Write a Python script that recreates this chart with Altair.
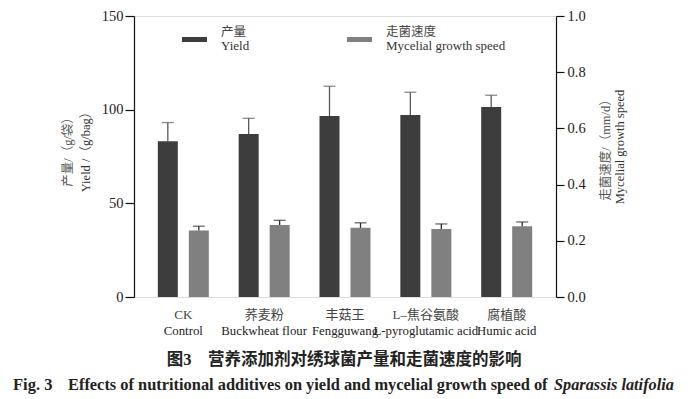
import altair as alt
import pandas as pd

categories = ["CK", "Buckwheat", "Fengguwang", "Lpyro", "Humic"]
labels_cn = ["CK", "荞麦粉", "丰菇王", "L–焦谷氨酸", "腐植酸"]
labels_en = ["Control", "Buckwheat flour", "Fengguwang", "L-pyroglutamic acid", "Humic acid"]
yield_vals = [83.1, 87.0, 96.6, 97.2, 101.4]
yield_err = [10.0, 8.4, 15.9, 12.1, 6.3]
speed_vals = [0.237, 0.256, 0.246, 0.242, 0.252]
speed_err = [0.015, 0.017, 0.018, 0.018, 0.015]

FONT = "'Liberation Serif', 'Times New Roman', 'Noto Sans CJK SC', serif"
DARK = "#3d3d3d"
LIGHT = "#808080"
W, H = 422, 281

df = pd.DataFrame({
    "cat": categories, "cn": labels_cn, "en": labels_en,
    "yv": yield_vals, "ye": yield_err, "sv": speed_vals, "se": speed_err,
})
df["ytop"] = df["yv"] + df["ye"]
df["stop"] = df["sv"] + df["se"]

xenc = alt.X("cat:N", sort=categories,
             scale=alt.Scale(paddingInner=0, paddingOuter=0.11),
             axis=alt.Axis(labels=False, ticks=False, domain=True, domainColor="#111",
                           domainWidth=1.2, title=None, grid=False))
xnoaxis = alt.X("cat:N", sort=categories, axis=None)

yscale = alt.Scale(domain=[0, 150], nice=False)
sscale = alt.Scale(domain=[0, 1], nice=False)

base = alt.Chart(df)

ybar = base.mark_bar(color=DARK, width=20, xOffset=-15.5).encode(
    x=xenc,
    y=alt.Y("yv:Q", scale=yscale,
            axis=alt.Axis(orient="left", values=[0, 50, 100, 150], title=None, grid=False,
                          tickSize=9, tickColor="#111", domainColor="#111", domainWidth=1.2,
                          tickWidth=1.2, labelFontSize=14.5, labelFont=FONT, labelColor="#222",
                          labelPadding=2)),
)
yrule = base.mark_rule(color="#5a5a5a", strokeWidth=1.3, xOffset=-15.5).encode(
    x=xnoaxis, y=alt.Y("yv:Q", scale=yscale), y2="ytop:Q")
ycap = base.mark_tick(color="#5a5a5a", thickness=1.3, size=12, xOffset=-15.5).encode(
    x=xnoaxis, y=alt.Y("ytop:Q", scale=yscale))
ylayer = alt.layer(ybar, yrule, ycap)

sbar = base.mark_bar(color=LIGHT, width=20, xOffset=15.5).encode(
    x=xnoaxis,
    y=alt.Y("sv:Q", scale=sscale,
            axis=alt.Axis(orient="right", values=[0, 0.2, 0.4, 0.6, 0.8, 1.0], format=".1f",
                          title=None, grid=False, tickSize=8, tickColor="#111",
                          domainColor="#111", domainWidth=1.2, tickWidth=1.2,
                          labelFontSize=14.5, labelFont=FONT, labelColor="#222", labelPadding=3)),
)
srule = base.mark_rule(color="#2a2a2a", strokeWidth=1.3, xOffset=15.5).encode(
    x=xnoaxis, y=alt.Y("sv:Q", scale=sscale), y2="stop:Q")
scap = base.mark_tick(color="#2a2a2a", thickness=1.3, size=12, xOffset=15.5).encode(
    x=xnoaxis, y=alt.Y("stop:Q", scale=sscale))
slayer = alt.layer(sbar, srule, scap)

cnlab = base.mark_text(font=FONT, fontSize=13, color="#444", baseline="middle").encode(
    x=xnoaxis, y=alt.value(H + 18), text="cn:N")
enlab = base.mark_text(font=FONT, fontSize=12.8, color="#222", baseline="middle").encode(
    x=xnoaxis, y=alt.value(H + 34), text="en:N")

def txt(s, x, y, size=13, angle=0, align="left", weight="normal", style="normal", color="#333"):
    return alt.Chart(pd.DataFrame({"t": [s]})).mark_text(
        font=FONT, fontSize=size, angle=angle, align=align, baseline="middle",
        fontWeight=weight, fontStyle=style, color=color).encode(
        x=alt.value(x), y=alt.value(y), text="t:N")

leg1 = alt.Chart(pd.DataFrame({"a": [0]})).mark_rect(color=DARK).encode(
    x=alt.value(48), x2=alt.value(73), y=alt.value(21), y2=alt.value(26))
leg2 = alt.Chart(pd.DataFrame({"a": [0]})).mark_rect(color=LIGHT).encode(
    x=alt.value(213), x2=alt.value(238), y=alt.value(21), y2=alt.value(26))

texts = [
    txt("产量", 87, 15.5, size=12.5, color="#444"),
    txt("Yield", 87, 29.5, size=13),
    txt("走菌速度", 252, 15.5, size=12.5, color="#444"),
    txt("Mycelial growth speed", 252, 29.5, size=13),
    txt("产量/（g/袋）", -66, 133, size=12.5, angle=270, align="center", color="#555"),
    txt("Yield /（g/bag）", -48, 133, size=12.5, angle=270, align="center", color="#333"),
    txt("走菌速度/（mm/d）", 472, 131, size=12.5, angle=270, align="center", color="#555"),
    txt("Mycelial growth speed", 486, 131, size=12.5, angle=270, align="center", color="#333"),
    txt("图3　营养添加剂对绣球菌产量和走菌速度的影响", 210, 344, size=16.5, align="center",
        weight="bold", color="#222"),
    txt("Fig. 3", -121, 369, size=16.5, weight="bold", color="#222"),
    txt("Effects of nutritional additives on yield and mycelial growth speed of", -66, 369,
        size=16.4, weight="bold", color="#222"),
    txt("Sparassis latifolia", 420, 369, size=16.3, weight="bold", style="italic", color="#222"),
]

chart = alt.layer(ylayer, slayer, cnlab, enlab, leg1, leg2, *texts).resolve_scale(
    y="independent"
).properties(
    width=W, height=H,
    autosize=alt.AutoSizeParams(type="none"),
    padding={"left": 126, "top": 8, "right": 125, "bottom": 100},
).configure_view(stroke=None).configure(background="white")

chart.save("out.html", embed_options={"renderer": "svg", "actions": False})
